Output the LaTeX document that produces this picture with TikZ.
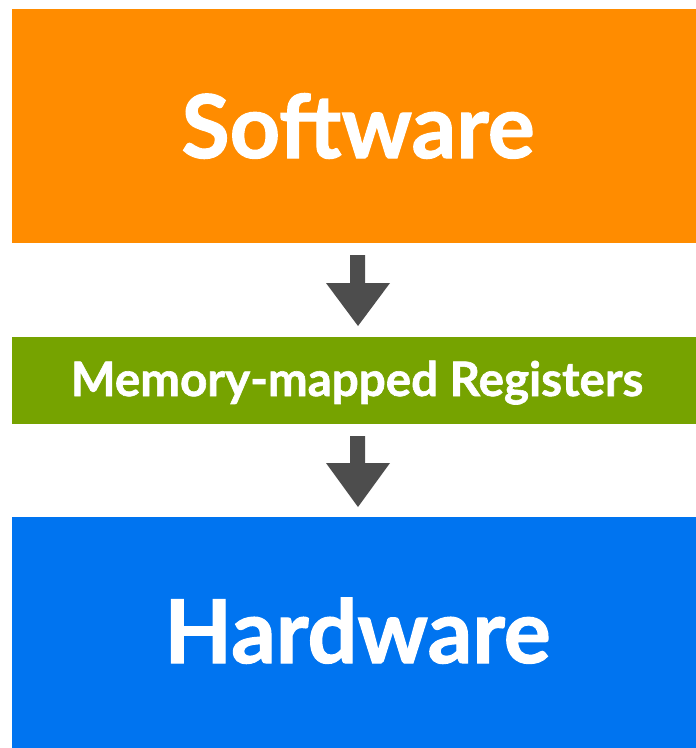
\documentclass[tikz,border=0pt]{standalone}
\usepackage{fontspec}
\setmainfont{Lato}[BoldFeatures={FakeBold=1.3}]
\definecolor{swOrange}{HTML}{FF8C00}
\definecolor{regGreen}{HTML}{76A300}
\definecolor{hwBlue}{HTML}{0074F0}
\definecolor{arrowGray}{HTML}{4D4D4D}
\tikzset{
  layer/.style={fill=#1, draw=none},
  label/.style={text=white, anchor=base, inner sep=0pt},
  bigtext/.style={font=\bfseries\fontsize{88}{100}\selectfont},
  smalltext/.style={font=\bfseries\fontsize{47.5}{56}\selectfont},
  downarrow/.style={fill=arrowGray, draw=none}
}
\begin{document}
\begin{tikzpicture}[x=1pt,y=-1pt]
  \useasboundingbox (0,0) rectangle (696,748);
  % layers
  \fill[layer=swOrange] (12,9) rectangle (696,243);
  \fill[layer=regGreen] (12,337) rectangle (696,424);
  \fill[layer=hwBlue] (12,517) rectangle (696,748);
  \node[label, bigtext] (sw) at (358,158) {Software};
  \node[label, smalltext] (reg) at (357,396) {Memory-mapped Registers};
  \node[label, bigtext] (hw) at (357.5,663) {Hardware};
  % arrows between layers
  \fill[downarrow] (350,255) -- (365,255) -- (365,283) -- (390,283) -- (358,326) -- (326,283) -- (350,283) -- cycle;
  \fill[downarrow] (350,436) -- (365,436) -- (365,463) -- (390,463) -- (358,507) -- (326,463) -- (350,463) -- cycle;
\end{tikzpicture}
\end{document}
